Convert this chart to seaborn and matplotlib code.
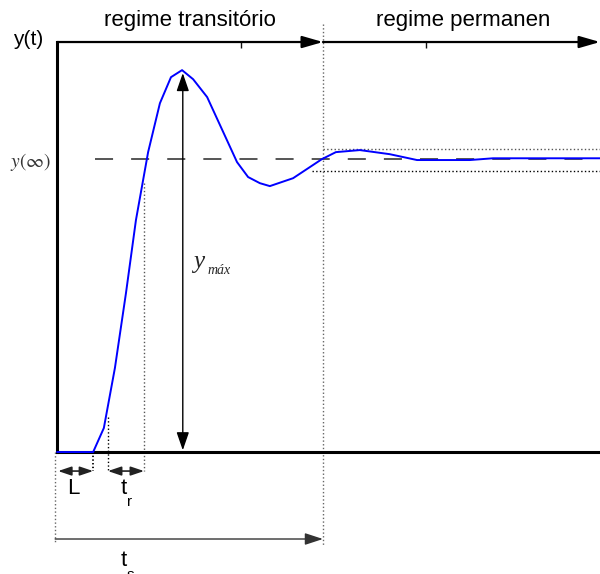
import numpy as np
import matplotlib.pyplot as plt
import seaborn as sns

# step response (time, output), y(inf) = 1
t = [0.0, 0.98, 1.27, 1.57, 1.87, 2.14, 2.47, 2.79, 3.09, 3.39, 3.69, 4.07,
     4.88, 5.18, 5.50, 5.77, 6.40, 7.18, 7.56, 8.21, 9.02, 9.76, 11.19, 11.82, 14.72]
y = [0.0, 0.0, 0.082, 0.287, 0.543, 0.792, 1.024, 1.191, 1.280, 1.304, 1.273, 1.212,
     0.990, 0.939, 0.918, 0.908, 0.935, 1.000, 1.024, 1.031, 1.017, 0.997, 0.997, 1.003, 1.003]

y_inf = 1.0
band_hi, band_lo = 1.034, 0.959
t_L = 0.98           # dead time
t_r0, t_r1 = 1.38, 2.36   # rise time window
t_s = 7.21           # settling time
t_peak = 3.41
y_peak = 1.294
x_max, y_max = 14.72, 1.4

sns.set_style("white")
plt.rcParams['font.family'] = ['Liberation Sans', 'DejaVu Sans']
plt.rcParams['mathtext.fontset'] = 'stix'
plt.rcParams['lines.scale_dashes'] = False

fig = plt.figure(figsize=(6, 5.74), dpi=100)
ax = fig.add_axes([0.095, 0.2125, 0.905, 0.7143])

sns.lineplot(x=t, y=y, ax=ax, color='#0000ff', lw=1.4, zorder=5, clip_on=False)

ax.set_xlim(0, x_max)
ax.set_ylim(0, y_max)
ax.set_xticks([5, 10])
ax.set_xticklabels(['', ''])
ax.set_yticks([0.2, 0.4, 0.6, 0.8, 1.0, 1.2])
ax.set_yticklabels(['', '', '', '', r'$y(\infty)$', ''], fontsize=14, color='#333333')
ax.tick_params(direction='in', length=4, width=1, top=True, pad=4, colors='#111111')
ax.tick_params(axis='y', labelcolor='#333333')
for s in ['top', 'right']:
    ax.spines[s].set_visible(False)
for s in ['left', 'bottom']:
    ax.spines[s].set_linewidth(2.2)
    ax.spines[s].set_color('black')
    ax.spines[s].set_zorder(4)
ax.set_xlabel('')
ax.set_ylabel('')

# reference level and tolerance band
ax.plot([1.03, x_max], [y_inf, y_inf], color='#555555', lw=1.4, dashes=(13, 13), zorder=3)
ax.plot([t_s, x_max], [band_hi, band_hi], color='#555555', lw=1, ls=':', clip_on=False)
ax.plot([6.91, x_max], [band_lo, band_lo], color='black', lw=1, ls=':', clip_on=False)

# vertical guide lines
ax.plot([t_s, t_s], [1.461, -0.317], color='#666666', lw=1, ls=':', clip_on=False)
ax.plot([-0.05, -0.05], [0, -0.31], color='#666666', lw=1, ls=':', clip_on=False)
ax.plot([t_L, t_L], [0, -0.065], color='black', lw=1.3, ls=':', clip_on=False)
ax.plot([t_r0, t_r0], [0.12, -0.065], color='black', lw=1, ls=':', clip_on=False)
ax.plot([t_r1, t_r1], [0.918, -0.065], color='#555555', lw=1, ls=':', clip_on=False)


def arrow(x0, y0, x1, y1, style='-|>', hl=1.1, hw=0.36, lw=1.0, color='black', ms=10):
    ax.annotate('', xy=(x1, y1), xytext=(x0, y0), annotation_clip=False,
                arrowprops=dict(arrowstyle=f'{style},head_length={hl},head_width={hw}',
                                lw=lw, color=color, shrinkA=0, shrinkB=0,
                                mutation_scale=ms))


# top axis split into two regimes
arrow(0, y_max, t_s, y_max, lw=1.6, hl=1.25, hw=0.36)
arrow(t_s, y_max, x_max, y_max, lw=1.6, hl=1.25, hw=0.36)

# overshoot arrow
arrow(t_peak, 0.006, t_peak, y_peak, style='<|-|>', lw=1.0, hl=1.1, hw=0.38)

# L, t_r, t_s arrows
arrow(0.03, -0.065, t_L, -0.065, style='<|-|>', lw=1.2, hl=0.8, hw=0.27, color='#222222')
arrow(t_r0, -0.065, t_r1, -0.065, style='<|-|>', lw=1.2, hl=0.8, hw=0.27, color='#222222')
arrow(-0.05, -0.297, t_s, -0.297, lw=1.0, hl=1.1, hw=0.36, color='#333333')

# text
kw = dict(clip_on=False, ha='center', va='center', color='black')
ax.text(-0.79, 1.408, 'y(t)', fontsize=15, **kw)
ax.text(3.60, 1.474, 'regime transitório', fontsize=16, **kw)
ax.text(11.0, 1.474, 'regime permanen', fontsize=16, **kw)
ax.text(0.43, -0.123, 'L', fontsize=16, **kw)
ax.text(1.82, -0.123, 't', fontsize=16, **kw)
ax.text(1.98, -0.172, 'r', fontsize=11, **kw)
ax.text(1.82, -0.369, 't', fontsize=16, **kw)
ax.text(1.98, -0.42, 's', fontsize=11, **kw)
ax.text(3.85, 0.628, 'y', fontsize=18, family='Liberation Serif', style='italic',
        ha='center', va='baseline', clip_on=False)
ax.text(4.07, 0.608, 'máx', fontsize=10, family='Liberation Serif', style='italic',
        ha='left', va='baseline', clip_on=False)

fig.savefig('out.png', dpi=100)
